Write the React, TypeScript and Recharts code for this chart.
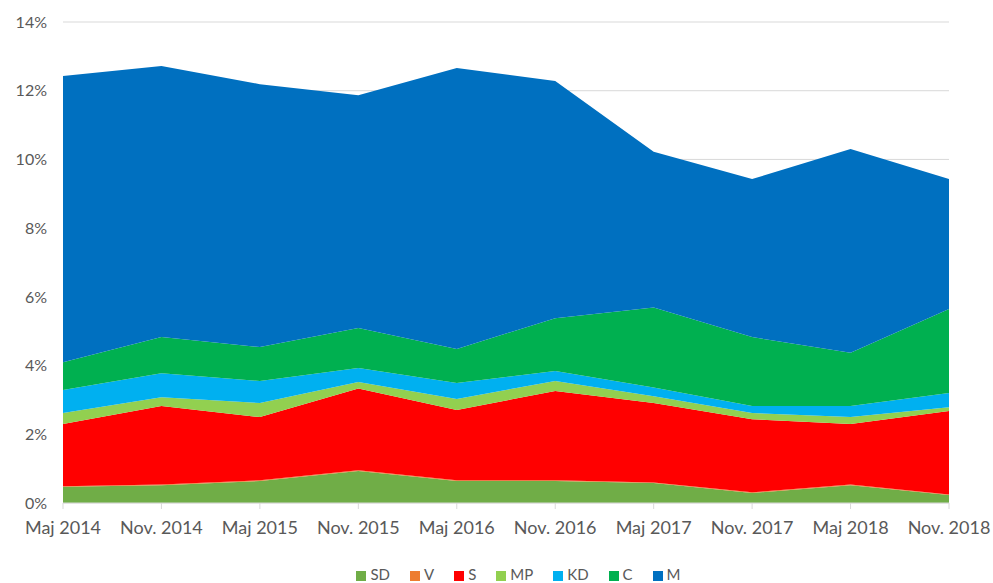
import React from "react";
import { AreaChart, Area, XAxis, YAxis, CartesianGrid, Legend } from "recharts";

const periods = [
  "Maj 2014",
  "Nov. 2014",
  "Maj 2015",
  "Nov. 2015",
  "Maj 2016",
  "Nov. 2016",
  "Maj 2017",
  "Nov. 2017",
  "Maj 2018",
  "Nov. 2018",
];

// values in percent
const SD = [0.47, 0.52, 0.64, 0.93, 0.64, 0.64, 0.58, 0.29, 0.52, 0.23];
const V = [0.02, 0.02, 0.02, 0.02, 0.02, 0.02, 0.02, 0.02, 0.02, 0.02];
const S = [1.81, 2.28, 1.84, 2.38, 2.05, 2.6, 2.31, 2.13, 1.76, 2.43];
const MP = [0.32, 0.26, 0.41, 0.19, 0.32, 0.29, 0.2, 0.18, 0.2, 0.11];
const KD = [0.67, 0.7, 0.64, 0.41, 0.46, 0.29, 0.25, 0.2, 0.32, 0.41];
const C = [0.81, 1.05, 0.99, 1.16, 0.99, 1.54, 2.33, 2.01, 1.55, 2.45];
const M = [8.33, 7.89, 7.65, 6.78, 8.18, 6.9, 4.53, 4.6, 5.93, 3.78];

const yTicks = [0, 2, 4, 6, 8, 10, 12, 14];

const series = [
  { key: "SD", color: "#70ad47" },
  { key: "V", color: "#ed7d31" },
  { key: "S", color: "#ff0000" },
  { key: "MP", color: "#92d050" },
  { key: "KD", color: "#00b0f0" },
  { key: "C", color: "#00b050" },
  { key: "M", color: "#0070c0" },
];
const order = series.map((s) => s.key);

const data = periods.map((p, i) => ({
  period: p,
  SD: SD[i],
  V: V[i],
  S: S[i],
  MP: MP[i],
  KD: KD[i],
  C: C[i],
  M: M[i],
}));

const FONT = "Lato, 'Open Sans', sans-serif";

export default function App() {
  return (
    <div style={{ position: "absolute", left: 0, top: 0, background: "#fff", fontFamily: FONT }}>
      <AreaChart
        width={993}
        height={583}
        data={data}
        margin={{ top: 22, right: 44, bottom: 0, left: 0 }}
      >
        <CartesianGrid vertical={false} stroke="#d9d9d9" />
        <XAxis
          dataKey="period"
          stroke="#d9d9d9"
          tickSize={6}
          tickMargin={12}
          height={62}
          tick={{ fill: "#595959", fontSize: 18, fontFamily: FONT }}
          interval={0}
        />
        <YAxis
          domain={[0, 14]}
          ticks={yTicks}
          axisLine={false}
          tickLine={false}
          width={63}
          tickMargin={10}
          tickFormatter={(v) => `${v}%`}
          tick={{ fill: "#595959", fontSize: 16, fontFamily: FONT }}
        />
        <Legend
          verticalAlign="bottom"
          iconType="square"
          iconSize={10}
          height={18}
          itemSorter={(item: any) => order.indexOf(item.dataKey)}
          wrapperStyle={{ fontSize: 15, color: "#595959", paddingLeft: 54 }}
          formatter={(value) => (
            <span style={{ color: "#595959", marginRight: 10 }}>{value}</span>
          )}
        />
        {series.map((s) => (
          <Area
            key={s.key}
            type="linear"
            dataKey={s.key}
            stackId="1"
            stroke="none"
            fill={s.color}
            fillOpacity={1}
            isAnimationActive={false}
          />
        ))}
      </AreaChart>
    </div>
  );
}
